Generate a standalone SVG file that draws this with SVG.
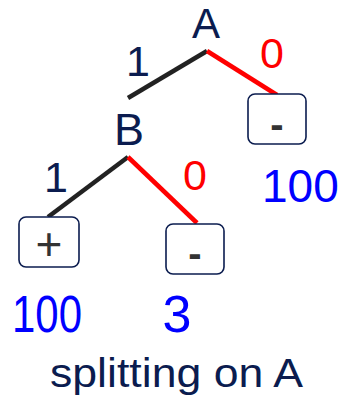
<svg xmlns="http://www.w3.org/2000/svg" width="340" height="397" viewBox="0 0 340 397">
<style>
.lbl{font-family:"Liberation Sans",Arial,sans-serif;fill:#0b1c4f;text-anchor:middle}
.cap{font-family:"Liberation Sans",Arial,sans-serif;fill:#0b1c4f;text-anchor:start}
.red{font-family:"Liberation Sans",Arial,sans-serif;fill:#ff0000;text-anchor:middle}
.num{font-family:"Liberation Sans",Arial,sans-serif;fill:#0000ff}
.box{fill:#ffffff;stroke:#0b1c4f;stroke-width:1.6}
.sym{font-family:"Liberation Sans",Arial,sans-serif;fill:#333333;text-anchor:middle}
.blk{stroke:#222222;stroke-width:4.5;fill:none}
.rd{stroke:#ff0000;stroke-width:4.5;fill:none}
</style>
<rect width="340" height="397" fill="#ffffff"/>
<g id="connectors">
<line class="blk" x1="207" y1="51" x2="128" y2="98"/>
<line class="rd" x1="207" y1="51" x2="277" y2="95"/>
<line class="blk" x1="128" y1="157" x2="48" y2="217"/>
<line class="rd" x1="128" y1="157" x2="197" y2="223"/>
</g>
<g id="edge-labels">
<text class="lbl" x="138" y="76" font-size="43">1</text>
<text class="red" x="272" y="68" font-size="43">0</text>
<text class="lbl" x="56" y="192" font-size="43">1</text>
<text class="red" x="195" y="190" font-size="43">0</text>
</g>
<g id="node-A">
<text class="lbl" x="206" y="38" font-size="42">A</text>
</g>
<g id="node-B">
<text class="lbl" x="129" y="145" font-size="45">B</text>
</g>
<g id="leaf-right">
<rect class="box" x="248" y="94" width="58" height="50" rx="7"/>
<text class="sym" x="277" y="138" font-size="40" font-weight="bold">-</text>
<text class="num" x="262" y="202" font-size="46">100</text>
</g>
<g id="leaf-plus">
<rect class="box" x="19" y="217" width="60" height="50" rx="7"/>
<text class="sym" x="49" y="260" font-size="46">+</text>
<text class="num" x="12" y="332" font-size="52" textLength="70" lengthAdjust="spacingAndGlyphs">100</text>
</g>
<g id="leaf-minus">
<rect class="box" x="166" y="224" width="58" height="50" rx="7"/>
<text class="sym" x="195" y="267" font-size="40" font-weight="bold">-</text>
<text class="num" x="177" y="332" font-size="52" text-anchor="middle">3</text>
</g>
<g id="caption">
<text class="cap" x="50" y="387" font-size="41" textLength="253" lengthAdjust="spacingAndGlyphs">splitting on A</text>
</g>
</svg>
